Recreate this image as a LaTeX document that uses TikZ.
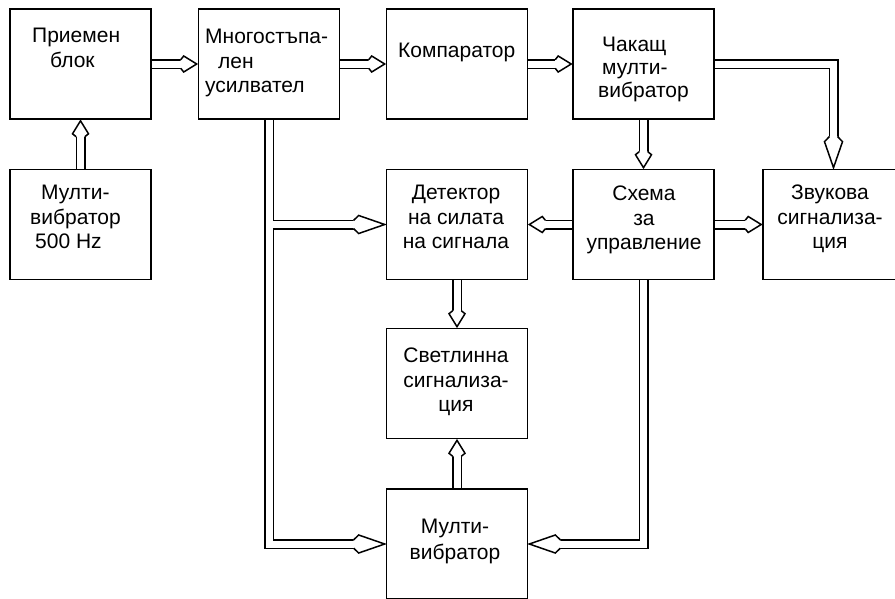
\documentclass[tikz,border=0pt]{standalone}
\usepackage{fontspec}
\setmainfont{Liberation Sans}
\pgfdeclarelayer{background}
\pgfsetlayers{background,main}
% hollow arrow head: name, length, wing offset, half width
\newcommand\declhollow[4]{%
\pgfdeclarearrow{
  name = #1,
  setup code = {
    \pgfarrowssettipend{0pt}
    \pgfarrowssetlineend{-#2pt}
    \pgfarrowssetbackend{-#2pt}
    \pgfarrowssetvisualbackend{-#2pt}
    \pgfarrowshullpoint{0pt}{0pt}
    \pgfarrowshullpoint{-#2pt}{#4pt}
    \pgfarrowshullpoint{-#2pt}{-#4pt}
  },
  drawing code = {
    \pgfsetlinewidth{1.5pt}
    \pgfsetmiterjoin
    \pgfsetfillcolor{white}
    \pgfpathmoveto{\pgfpoint{-#2pt}{4.25pt}}
    \pgfpathlineto{\pgfpoint{-#2pt+#3pt}{#4pt}}
    \pgfpathlineto{\pgfpoint{-1pt}{0pt}}
    \pgfpathlineto{\pgfpoint{-#2pt+#3pt}{-#4pt}}
    \pgfpathlineto{\pgfpoint{-#2pt}{-4.25pt}}
    \pgfusepathqfillstroke
  }
}}
\declhollow{HS}{17}{3}{8}
\declhollow{HL}{32}{5}{9}
\begin{document}
\begin{tikzpicture}[x=1pt,y=-1pt,
  box/.style={draw, line width=1.6pt, inner sep=0pt, minimum width=141pt, minimum height=110pt},
  txt/.style={inner sep=0pt, font=\fontsize{21}{24.5}\selectfont},
  outer/.style={line width=10pt, draw=black},
  innerS/.style={line width=7pt, draw=white, shorten >=17pt},
  innerL/.style={line width=7pt, draw=white, shorten >=32pt}]
\useasboundingbox (0,0) rectangle (895,598);
\clip (0,0) rectangle (895,598);
% boxes
\node[box] (pri)  at (80.5,64) {};
\node[box] (mnog) at (269,64) {};
\node[box] (komp) at (457,64) {};
\node[box] (chak) at (643.5,64) {};
\node[box] (m500) at (80.5,224.5) {};
\node[box] (det)  at (457,224.5) {};
\node[box] (sch)  at (643.5,224.5) {};
\node[box] (zvuk) at (833.5,224.5) {};
\node[box] (svet) at (457,383.5) {};
\node[box] (mbot) at (457,544) {};
% texts
\node[txt, anchor=north west, align=left] (pri-t) at (32,28) {Приемен\\\hspace*{18pt}блок};
\node[txt, anchor=north west, align=left] (mnog-t) at (205,29) {Многостъпа-\\\hspace*{13pt}лен\\усилвател};
\node[txt, anchor=north west] (komp-t) at (398,43) {Компаратор};
\node[txt, anchor=north west, align=left, font=\fontsize{21}{23}\selectfont] (chak-t) at (598,37) {\hspace*{4pt}Чакащ\\\hspace*{4pt}мулти-\\вибратор};
\node[txt, anchor=north west, align=left] (m500-t) at (30,185) {\hspace*{11pt}Мулти-\\вибратор\\\hspace*{5pt}500 Hz};
\node[txt, anchor=north, align=center] (det-t) at (456,185) {Детектор\\на силата\\на сигнала};
\node[txt, anchor=north, align=center] (sch-t) at (644,186) {Схема\\за\\управление};
\node[txt, anchor=north, align=center] (zvuk-t) at (830,185) {Звукова\\сигнализа-\\ция};
\node[txt, anchor=north, align=center] (svet-t) at (456,348) {Светлинна\\сигнализа-\\ция};
\node[txt, anchor=north, align=center, font=\fontsize{21}{26}\selectfont] (mbot-t) at (455,519) {Мулти-\\вибратор};
% connectors
\begin{pgfonlayer}{background}
\fill[white] (0,0) rectangle (895,598);
\coordinate (jl) at (mnog.south |- det.west);
\draw[outer,-{HS}] (pri.east) -- (mnog.west);
\draw[outer,-{HS}] (mnog.east) -- (komp.west);
\draw[outer,-{HS}] (komp.east) -- (chak.west);
\draw[outer,-{HL}] (chak.east) -| (zvuk.north);
\draw[outer,-{HS}] (chak.south) -- (sch.north);
\draw[outer,-{HS}] (m500.north) -- (pri.south);
\draw[outer,-{HS}] (sch.west) -- (det.east);
\draw[outer,-{HS}] (sch.east) -- (zvuk.west);
\draw[outer,-{HS}] (det.south) -- (svet.north);
\draw[outer,-{HS}] (mbot.north) -- (svet.south);
\draw[outer,-{HL}] (mnog.south) |- (mbot.west);
\draw[outer,-{HL}] (jl) -- (det.west);
\draw[outer,-{HL}] (sch.south) |- (mbot.east);
\draw[innerS] (pri.east) -- (mnog.west);
\draw[innerS] (mnog.east) -- (komp.west);
\draw[innerS] (komp.east) -- (chak.west);
\draw[innerL] (chak.east) -| (zvuk.north);
\draw[innerS] (chak.south) -- (sch.north);
\draw[innerS] (m500.north) -- (pri.south);
\draw[innerS] (sch.west) -- (det.east);
\draw[innerS] (sch.east) -- (zvuk.west);
\draw[innerS] (det.south) -- (svet.north);
\draw[innerS] (mbot.north) -- (svet.south);
\draw[innerL] (mnog.south) |- (mbot.west);
\draw[innerL] (jl) -- (det.west);
\draw[innerL] (sch.south) |- (mbot.east);
\end{pgfonlayer}
\end{tikzpicture}
\end{document}
